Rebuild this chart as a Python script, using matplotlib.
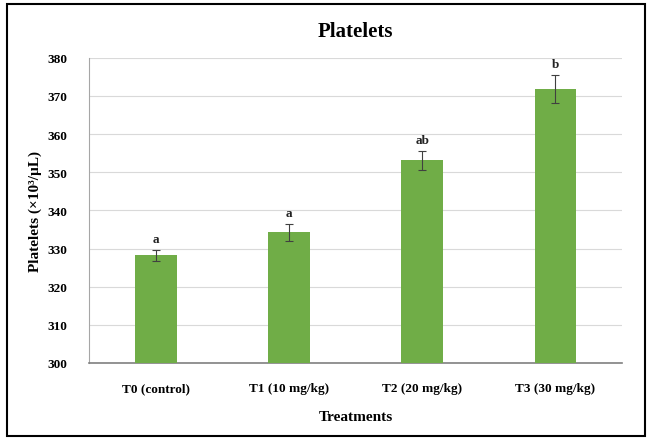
"""Platelet counts by treatment, bar chart with error bars"""
import matplotlib.pyplot as plt
from matplotlib.patches import Rectangle

TREATMENTS = ["T0 (control)", "T1 (10 mg/kg)", "T2 (20 mg/kg)", "T3 (30 mg/kg)"]
PLATELETS = [328.2, 334.3, 353.1, 371.8]
ERRORS = [1.5, 2.2, 2.4, 3.7]
LETTERS = ["a", "a", "ab", "b"]
YTICKS = [300, 310, 320, 330, 340, 350, 360, 370, 380]

GREEN = "#70AD47"


def main():
    """Go Main Go"""
    plt.rcParams["font.family"] = ["Liberation Serif", "DejaVu Serif"]
    plt.rcParams["font.weight"] = "bold"
    fig = plt.figure(figsize=(6.48, 4.39), dpi=100)
    ax = fig.add_axes([0.138, 0.171, 0.822, 0.695])

    xs = list(range(len(TREATMENTS)))
    ax.bar(xs, PLATELETS, width=0.315, color=GREEN, zorder=3)
    ax.errorbar(xs, PLATELETS, yerr=ERRORS, fmt="none", ecolor="#404040",
                elinewidth=0.8, capsize=3, capthick=0.8, zorder=4)
    for x, v, e, lab in zip(xs, PLATELETS, ERRORS, LETTERS):
        ax.text(x, v + e + 1.3, lab, ha="center", va="bottom",
                fontsize=9.5, fontweight="bold", color="#222222")

    ax.set_xlim(-0.5, len(TREATMENTS) - 0.5)
    ax.set_ylim(300, 380)
    ax.set_yticks(YTICKS)
    ax.set_xticks(xs)
    ax.set_xticklabels(TREATMENTS, fontsize=9.5, fontweight="bold")
    ax.tick_params(axis="y", labelsize=9.5, length=0, pad=16)
    ax.tick_params(axis="x", length=0, pad=14)
    ax.grid(axis="y", color="#d9d9d9", linewidth=0.8, zorder=0)
    for side in ("top", "right"):
        ax.spines[side].set_visible(False)
    ax.spines["left"].set_color("#a6a6a6")
    ax.spines["bottom"].set_color("#808080")
    ax.spines["bottom"].set_linewidth(1.2)

    ax.set_title("Platelets", fontsize=15, fontweight="bold", pad=16)
    ax.set_xlabel("Treatments", fontsize=11, fontweight="bold", labelpad=11)
    ax.set_ylabel("Platelets (×10³/µL)", fontsize=11,
                  fontweight="bold", labelpad=4)

    fig.patches.append(Rectangle((0.011, 0.005), 0.984, 0.984,
                                 transform=fig.transFigure, fill=False,
                                 edgecolor="black", linewidth=1.5))
    fig.savefig("out.png")


if __name__ == "__main__":
    main()
